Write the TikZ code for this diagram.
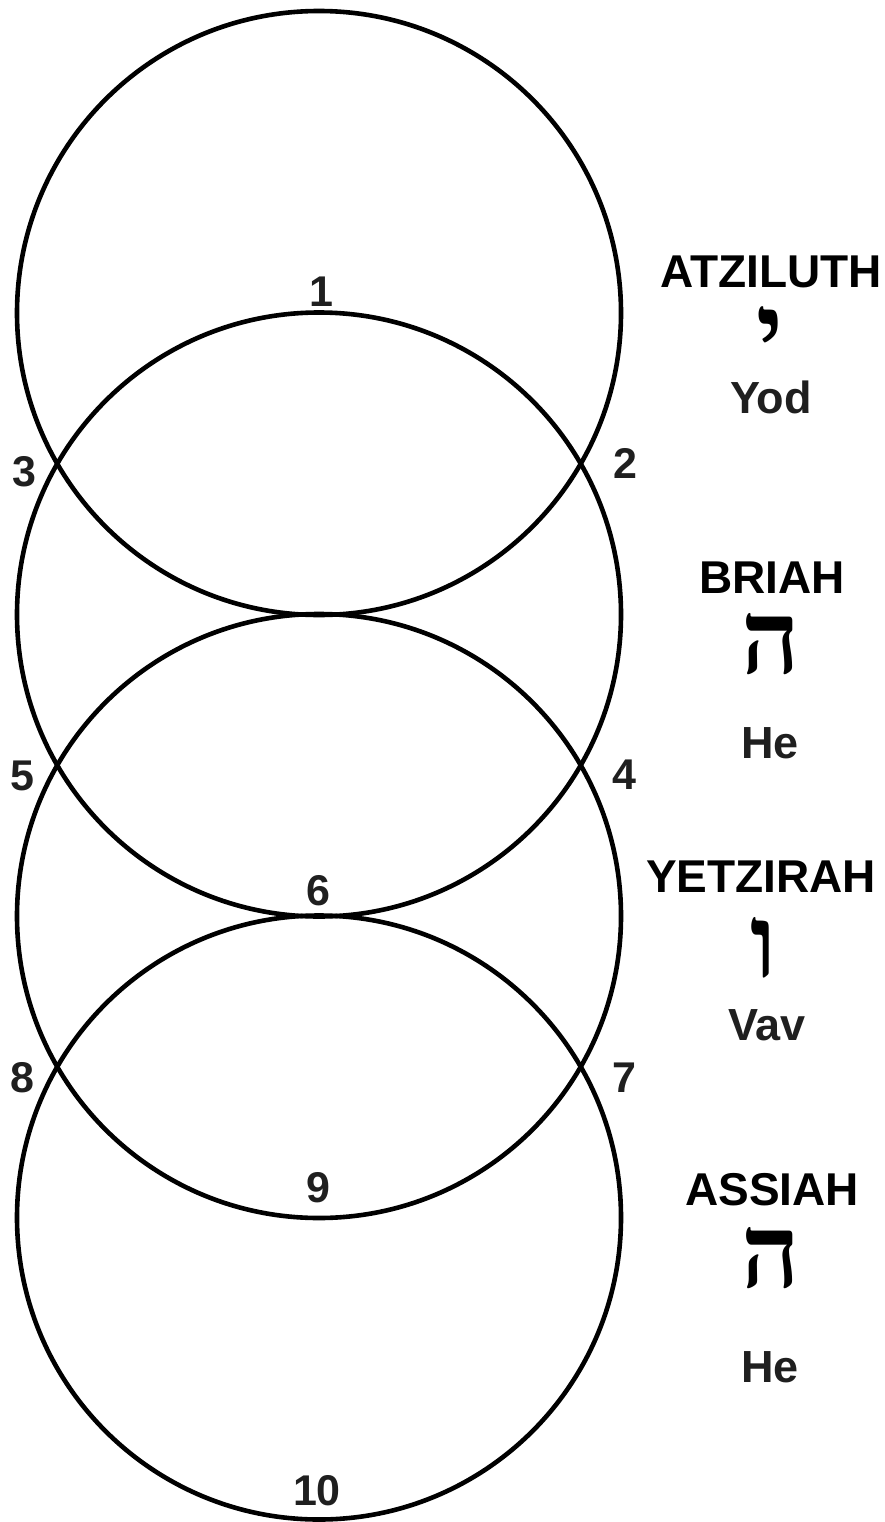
\documentclass[tikz,border=0pt]{standalone}
\usepackage{fontspec}
\setmainfont{Liberation Sans}
\newfontfamily\hebfont[Script=Hebrew]{Liberation Serif}
\TeXXeTstate=1
\begin{document}
\begin{tikzpicture}[x=1pt,y=-1pt,
  ring/.style={draw=black,line width=4.6pt},
  num/.style={font=\fontsize{43}{45}\selectfont\bfseries,inner sep=0pt,text=black!88},
  world/.style={font=\fontsize{46}{48}\selectfont\bfseries,inner sep=0pt,text=black},
  letname/.style={font=\fontsize{45}{48}\selectfont\bfseries,inner sep=0pt,text=black!88},
  heb/.style={font=\fontsize{102}{110}\selectfont\hebfont\bfseries,inner sep=0pt,text=black,
    anchor=base,text height=58pt,text depth=0pt}]
\useasboundingbox (0,0) rectangle (885,1522);
% circles
\node[ring,circle,minimum size=604pt,inner sep=0pt] (c1) at (319,313) {};
\node[ring,circle,minimum size=604pt,inner sep=0pt] (c2) at (319,614.5) {};
\node[ring,circle,minimum size=604pt,inner sep=0pt] (c3) at (319,916) {};
\node[ring,circle,minimum size=604pt,inner sep=0pt] (c4) at (319,1217.5) {};
% numbers
\node[num] (n1) at (321,292) {1};
\node[num] (n2) at (625,463) {2};
\node[num] (n3) at (24,472) {3};
\node[num] (n4) at (624,775) {4};
\node[num] (n5) at (22,776) {5};
\node[num] (n6) at (318,891) {6};
\node[num] (n7) at (624,1078) {7};
\node[num] (n8) at (22,1078) {8};
\node[num] (n9) at (318,1188) {9};
\node[num] (n10) at (317,1491) {10};
% worlds
\node[world] (w1) at (771,272) {ATZILUTH};
\node[heb] (h1) at (770,366) {\beginR י\endR};
\node[letname] (l1) at (771,397) {Yod};
\node[world] (w2) at (772,578) {BRIAH};
\node[heb] (h2) at (771,673) {\beginR ה\endR};
\node[letname] (l2) at (770,743) {He};
\node[world] (w3) at (761,877) {YETZIRAH};
\node[heb] (h3) at (764,977) {\beginR ו\endR};
\node[letname] (l3) at (767,1025) {Vav};
\node[world] (w4) at (772,1190) {ASSIAH};
\node[heb] (h4) at (771,1287) {\beginR ה\endR};
\node[letname] (l4) at (770,1367) {He};
\end{tikzpicture}
\end{document}
